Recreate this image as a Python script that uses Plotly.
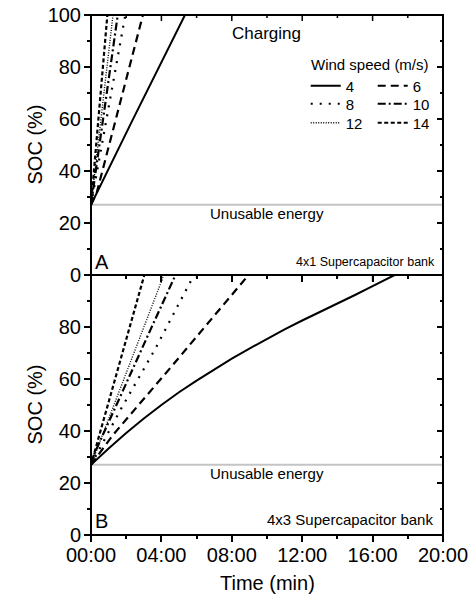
import plotly.graph_objects as go

# ---------------- data ----------------
WIND_SPEEDS = [4, 6, 8, 10, 12, 14]
UNUSABLE_SOC = 27
X_TICK_MIN = [0, 4, 8, 12, 16, 20]
X_TICK_TEXT = ["00:00", "04:00", "08:00", "12:00", "16:00", "20:00"]
X_MINOR_MIN = [2, 6, 10, 14, 18]
Y_TICKS = [0, 20, 40, 60, 80, 100]
Y_TICK_TEXT_A = ["0", "20", "40", "60", "80", "100"]
Y_TICK_TEXT_B = ["0", "20", "40", "60", "80", ""]
Y_MINOR = [10, 30, 50, 70, 90]

# Panel A: 4x1 supercapacitor bank (time in minutes, SOC in %)
A_T_4 = [0, 2.29, 5.34]
A_SOC_4 = [27, 58.6, 100]
A_T_6 = [0, 0.32, 2.95]
A_SOC_6 = [27, 31.5, 100]
A_T_8 = [0, 1.95]
A_SOC_8 = [27, 100]
A_T_10 = [0, 1.52]
A_SOC_10 = [27, 100]
A_T_12 = [0, 1.25]
A_SOC_12 = [27, 100]
A_T_14 = [0, 0.93]
A_SOC_14 = [27, 100]

# Panel B: 4x3 supercapacitor bank
B_T_4 = [0, 1, 2, 3, 4, 5, 6, 7, 8, 9, 10, 11, 12, 13, 14, 15, 16, 17.25]
B_SOC_4 = [27, 33.3, 39.2, 44.8, 50, 54.9, 59.4, 63.7, 67.8, 71.7, 75.5, 79.1, 82.5, 85.7, 88.9, 92.3, 95.7, 100]
B_T_6 = [0, 1.25, 4.56, 8.54, 8.95]
B_SOC_6 = [27, 38.5, 64.7, 96.8, 100]
B_T_8 = [0, 1.72, 3.62, 5.6, 5.85]
B_SOC_8 = [27, 48.7, 71.2, 96.8, 100]
B_T_10 = [0, 0.2, 3.37, 4.66, 4.8]
B_SOC_10 = [27, 31.4, 78.8, 97.4, 100]
B_T_12 = [0, 4.03, 4.14]
B_SOC_12 = [27, 98, 100]
B_T_14 = [0, 2.95, 3.03]
B_SOC_14 = [27, 98, 100]

A_SERIES = [(A_T_4, A_SOC_4), (A_T_6, A_SOC_6), (A_T_8, A_SOC_8),
            (A_T_10, A_SOC_10), (A_T_12, A_SOC_12), (A_T_14, A_SOC_14)]
B_SERIES = [(B_T_4, B_SOC_4), (B_T_6, B_SOC_6), (B_T_8, B_SOC_8),
            (B_T_10, B_SOC_10), (B_T_12, B_SOC_12), (B_T_14, B_SOC_14)]

# ---------------- styles ----------------
FONT = "Liberation Sans, Arial, sans-serif"
STYLE = {
    4: dict(dash="solid", width=2),
    6: dict(dash="8px,5px", width=2.2),
    8: dict(dash="2px,7px", width=2.2),
    10: dict(dash="8px,3px,2px,3px", width=2.2),
    12: dict(dash="1px,1.5px", width=1.4),
    14: dict(dash="4px,2.5px", width=2.2),
}
LEGEND_OF = {4: "legend", 6: "legend", 8: "legend2", 10: "legend2", 12: "legend3", 14: "legend3"}
PANEL_PX = 260.0          # height of one panel in pixels
MAJOR_LEN, MINOR_LEN = 6, 3

fig = go.Figure()

for speed, (t, soc) in zip(WIND_SPEEDS, A_SERIES):
    st = STYLE[speed]
    fig.add_trace(go.Scatter(
        x=t, y=soc, mode="lines", name=str(speed), xaxis="x", yaxis="y",
        line=dict(color="black", width=st["width"], dash=st["dash"]),
        legend=LEGEND_OF[speed], showlegend=True, hoverinfo="skip"))

for speed, (t, soc) in zip(WIND_SPEEDS, B_SERIES):
    st = STYLE[speed]
    fig.add_trace(go.Scatter(
        x=t, y=soc, mode="lines", name=str(speed), xaxis="x2", yaxis="y2",
        line=dict(color="black", width=st["width"], dash=st["dash"]),
        showlegend=False, hoverinfo="skip"))

# empty helper traces so the right-hand inward-tick axes get drawn
for xa, ya in (("x", "y3"), ("x2", "y4")):
    fig.add_trace(go.Scatter(x=[], y=[], xaxis=xa, yaxis=ya, mode="lines",
                             showlegend=False, hoverinfo="skip"))

# unusable energy reference lines
for yref, xref in (("y", "x"), ("y2", "x2")):
    fig.add_shape(type="line", xref=f"{xref} domain", yref=yref,
                  x0=0, x1=1, y0=UNUSABLE_SOC, y1=UNUSABLE_SOC,
                  line=dict(color="#c4c4c4", width=2), layer="below")

# panel frames
for y0, y1 in ((0.5, 1.0), (0.0, 0.5)):
    fig.add_shape(type="rect", xref="paper", yref="paper", x0=0, x1=1, y0=y0, y1=y1,
                  line=dict(color="black", width=2), fillcolor="rgba(0,0,0,0)", layer="above")

# inward ticks along the top edge of each panel (at the tick positions of the time axis)
for xref, yref in (("x", "y domain"), ("x2", "y2 domain")):
    for vals, ln in ((X_TICK_MIN, MAJOR_LEN), (X_MINOR_MIN, MINOR_LEN)):
        for v in vals:
            fig.add_shape(type="line", xref=xref, yref=yref, x0=v, x1=v,
                          y0=1, y1=1 - ln / PANEL_PX,
                          line=dict(color="black", width=1.5), layer="above")

tick_common = dict(ticklen=MAJOR_LEN, tickwidth=1.5, tickcolor="black")
line_common = dict(showline=False, showgrid=False, zeroline=False, automargin=False,
                   ticklabeloverflow="allow")

def xax(**kw):
    d = dict(range=[0, 20], tickmode="array", tickvals=X_TICK_MIN, ticktext=X_TICK_TEXT,
             tickfont=dict(size=20, color="black", family=FONT), ticklabelstandoff=-4,
             minor=dict(tickmode="array", tickvals=X_MINOR_MIN, ticklen=MINOR_LEN, tickwidth=1.5,
                        tickcolor="black"),
             **tick_common, **line_common)
    d.update(kw)
    d["minor"]["ticks"] = d.get("ticks", "outside")
    return d

def yax(text, **kw):
    d = dict(range=[0, 100], tickmode="array", tickvals=Y_TICKS, ticktext=text,
             tickfont=dict(size=20, color="black", family=FONT), ticklabelstandoff=-1,
             minor=dict(tickmode="array", tickvals=Y_MINOR, ticklen=MINOR_LEN, tickwidth=1.5,
                        tickcolor="black"),
             **tick_common, **line_common)
    d.update(kw)
    d["minor"]["ticks"] = d.get("ticks", "outside")
    return d

legend_common = dict(orientation="h", xanchor="left", yanchor="middle",
                     bgcolor="rgba(0,0,0,0)", font=dict(size=15, color="black", family=FONT),
                     entrywidth=22, entrywidthmode="pixels", itemwidth=30,
                     tracegroupgap=0, itemclick=False, itemdoubleclick=False)

fig.update_layout(
    template="none",
    width=472, height=600,
    margin=dict(l=91, r=29, t=15, b=65, pad=0, autoexpand=False),
    paper_bgcolor="white", plot_bgcolor="rgba(0,0,0,0)",
    font=dict(family=FONT, color="black"),
    xaxis=xax(domain=[0, 1], anchor="y", ticks="outside", showticklabels=False),
    xaxis2=xax(domain=[0, 1], anchor="y2", ticks="outside", showticklabels=True),
    yaxis=yax(Y_TICK_TEXT_A, domain=[0.5, 1], anchor="x", ticks="outside"),
    yaxis2=yax(Y_TICK_TEXT_B, domain=[0, 0.5], anchor="x2", ticks="outside"),
    yaxis3=yax(Y_TICK_TEXT_A, overlaying="y", anchor="x", side="right", ticks="inside",
               showticklabels=False),
    yaxis4=yax(Y_TICK_TEXT_B, overlaying="y2", anchor="x2", side="right", ticks="inside",
               showticklabels=False),
    legend=dict(x=0.61, y=0.8635, **legend_common),
    legend2=dict(x=0.61, y=0.8288, **legend_common),
    legend3=dict(x=0.61, y=0.7923, **legend_common),
    showlegend=True,
)

ann = []
# axis titles
for yd in ("y", "y2"):
    ann.append(dict(text="SOC (%)", xref="paper", yref=f"{yd} domain", x=-0.1605, y=0.5,
                    xanchor="center", yanchor="middle", textangle=-90, showarrow=False,
                    font=dict(size=20)))
ann.append(dict(text="Time (min)", xref="paper", yref="paper", x=0.5, y=-0.092,
                xanchor="center", yanchor="middle", showarrow=False, font=dict(size=20)))
# in-plot texts
ann.append(dict(text="Charging", xref="x domain", yref="y domain", x=0.4986, y=0.93,
                xanchor="center", yanchor="middle", showarrow=False, font=dict(size=17)))
ann.append(dict(text="Wind speed (m/s)", xref="x domain", yref="y domain", x=0.62, y=0.808,
                xanchor="left", yanchor="middle", showarrow=False, font=dict(size=15)))
for xd, yd in (("x", "y"), ("x2", "y2")):
    ann.append(dict(text="Unusable energy", xref=f"{xd} domain", yref=f"{yd} domain", x=0.5, y=0.235,
                    xanchor="center", yanchor="middle", showarrow=False, font=dict(size=15)))
ann.append(dict(text="4x1 Supercapacitor bank", xref="x domain", yref="y domain", x=0.983, y=0.05,
                xanchor="right", yanchor="middle", showarrow=False, font=dict(size=12.5)))
ann.append(dict(text="4x3 Supercapacitor bank", xref="x2 domain", yref="y2 domain", x=0.977, y=0.058,
                xanchor="right", yanchor="middle", showarrow=False, font=dict(size=15)))
ann.append(dict(text="A", xref="x domain", yref="y domain", x=0.006, y=0.05,
                xanchor="left", yanchor="middle", showarrow=False, font=dict(size=20)))
ann.append(dict(text="B", xref="x2 domain", yref="y2 domain", x=0.006, y=0.054,
                xanchor="left", yanchor="middle", showarrow=False, font=dict(size=20)))
fig.update_layout(annotations=ann)

# remove the browser's default page margin so the 472x600 figure fills the window exactly
fig.write_html("out.html", config={"displayModeBar": False},
               post_script="document.body.style.margin='0';")
